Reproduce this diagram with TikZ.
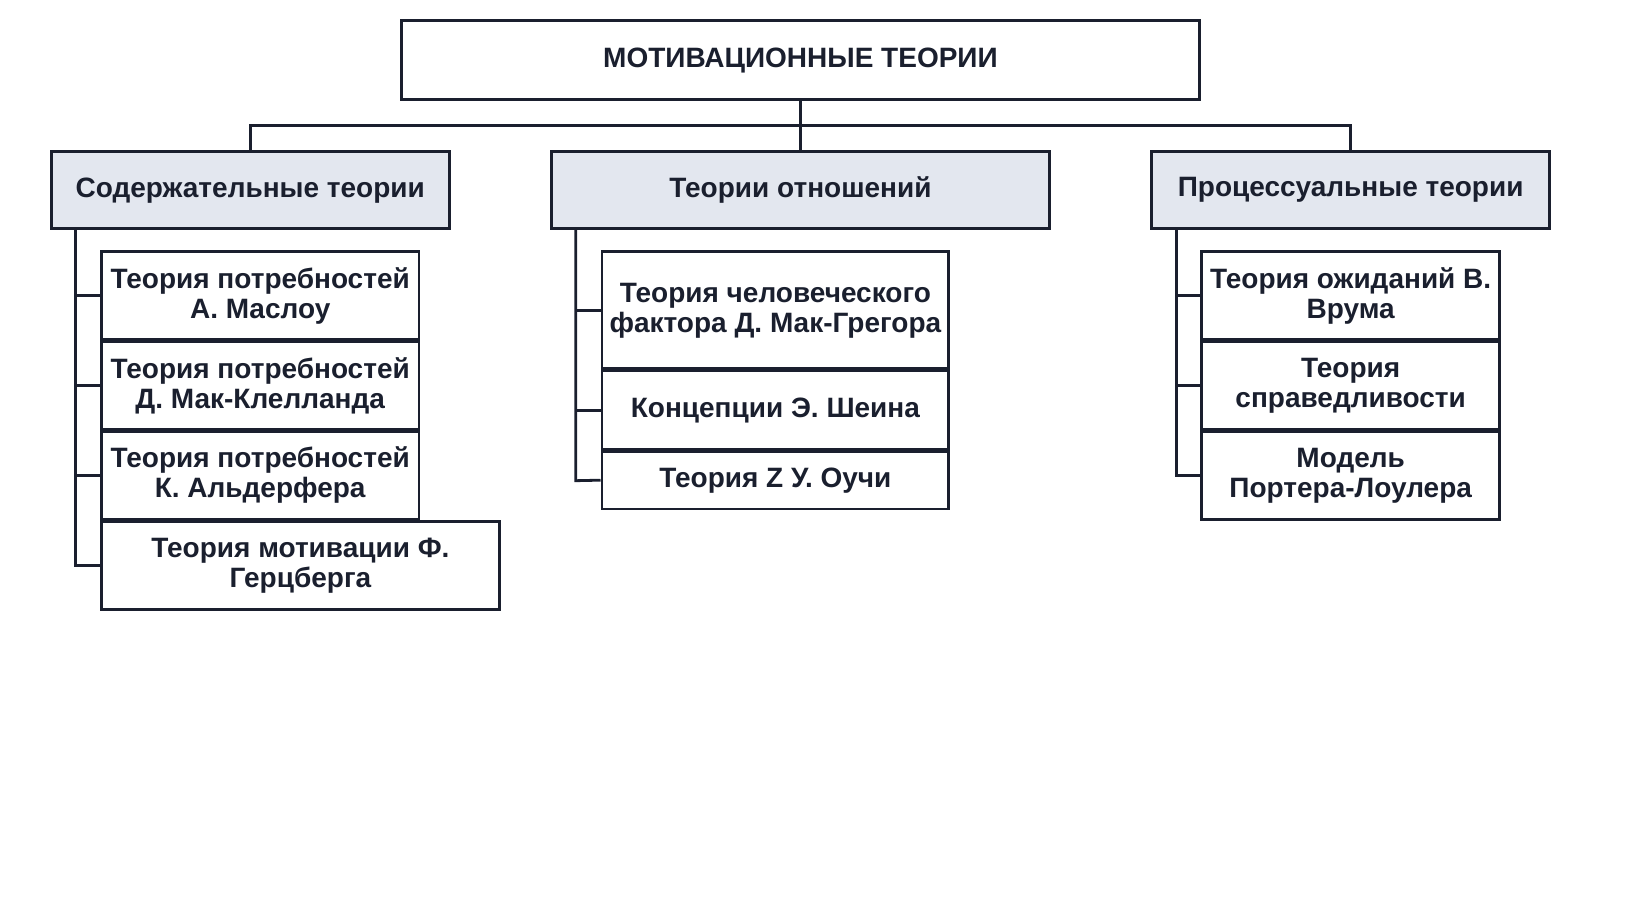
\documentclass[tikz,border=0pt]{standalone}
\usepackage{fontspec}
\setmainfont{Liberation Sans}
\begin{document}
\begin{tikzpicture}[x=1.045pt,y=-1.045pt,
  box/.style={draw=lc,line width=2.8pt,inner sep=0pt,align=center,font=\fontsize{28}{30}\selectfont\bfseries,text=lc},
  hd/.style={box,fill=hf},
  ln/.style={draw=lc,line width=2.8pt}]
\definecolor{lc}{HTML}{1A1F2E}
\definecolor{hf}{HTML}{E3E7EF}
\useasboundingbox (0,0) rectangle (1567.5,870);
\newcommand{\bx}[6]{\node[#6,minimum width=1.045*(#4-#2),minimum height=1.045*(#5-#3)] (#1) at ({(#2+#4)/2},{(#3+#5)/2}) {};}
\bx{top}{384}{20}{1148}{95}{box}
\node[box,draw=none] at (top) {МОТИВАЦИОННЫЕ ТЕОРИИ};
\bx{A}{49}{145}{430}{219}{hd}
\node[box,draw=none] at (A) {Содержательные теории};
\bx{B}{528}{145}{1004}{219}{hd}
\node[box,draw=none] at (B) {Теории отношений};
\bx{C}{1102}{145}{1483}{219}{hd}
\node[box,draw=none] at (C) {Процессуальные теории};
% left
\bx{a1}{97}{241}{401}{325}{box}\node[box,draw=none] at (a1) {Теория потребностей\\А. Маслоу};
\bx{a2}{97}{327}{401}{411}{box}\node[box,draw=none] at (a2) {Теория потребностей\\Д. Мак-Клелланда};
\bx{a3}{97}{413}{401}{497}{box}\node[box,draw=none] at (a3) {Теория потребностей\\К. Альдерфера};
\bx{a4}{97}{499}{478}{583}{box}\node[box,draw=none] at (a4) {Теория мотивации Ф.\\Герцберга};
% middle
\bx{b1}{576}{241}{908}{353}{box}\node[box,draw=none] at (b1) {Теория человеческого\\фактора Д. Мак-Грегора};
\bx{b2}{576}{355}{908}{430}{box}\node[box,draw=none] at (b2) {Концепции Э. Шеина};
\bx{b3}{576}{432}{908}{487}{box}\node[box,draw=none] at (b3) {Теория Z У. Оучи};
% right
\bx{c1}{1150}{241}{1435}{325}{box}\node[box,draw=none] at (c1) {Теория ожиданий В.\\Врума};
\bx{c2}{1150}{327}{1435}{411}{box}\node[box,draw=none] at (c2) {Теория\\справедливости};
\bx{c3}{1150}{413}{1435}{497}{box}\node[box,draw=none] at (c3) {Модель\\Портера-Лоулера};
% connectors
\coordinate (j) at (766,120);
\draw[ln] (top.south) -- (j);
\draw[ln] (A.north) |- (j) -| (C.north);
\draw[ln] (j) -- (B.north);
\draw[ln] (72,219) -- (72,541) -- (a4.west);
\foreach \n in {a1,a2,a3} \draw[ln] (72,0 |- \n.west) -- (\n.west);
\draw[ln] (551,219) -- (551,460) -- (b3.west);
\foreach \n in {b1,b2} \draw[ln] (551,0 |- \n.west) -- (\n.west);
\draw[ln] (1126,219) -- (1126,455) -- (c3.west);
\foreach \n in {c1,c2} \draw[ln] (1126,0 |- \n.west) -- (\n.west);
\end{tikzpicture}
\end{document}
